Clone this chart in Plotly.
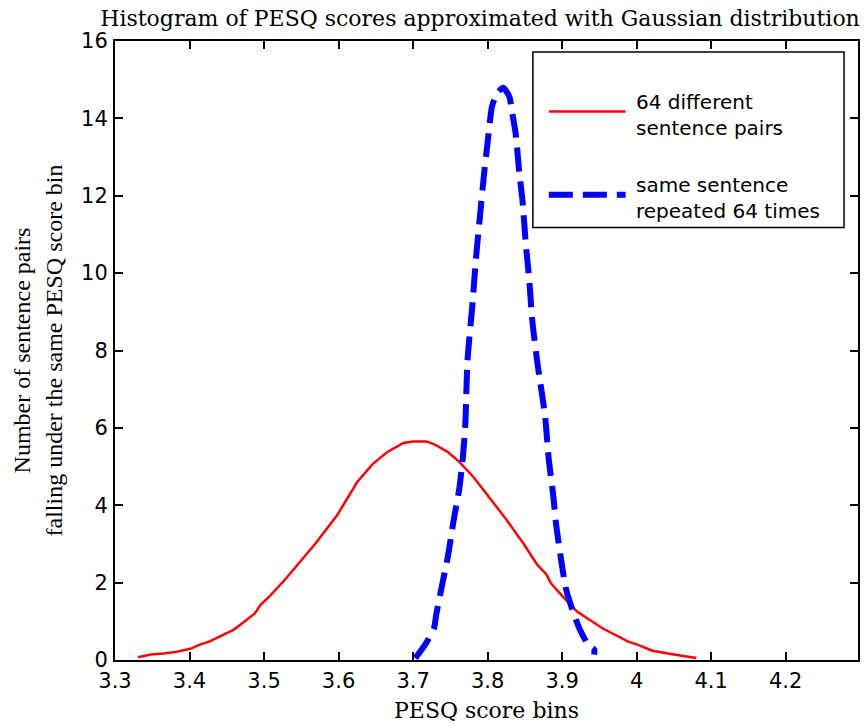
import plotly.graph_objects as go

# ---- data ----
red_x = [3.331, 3.348, 3.365, 3.382, 3.401, 3.413, 3.427, 3.443, 3.459, 3.473,
         3.488, 3.495, 3.507, 3.526, 3.543, 3.569, 3.598, 3.617, 3.625, 3.646,
         3.665, 3.687, 3.700, 3.718, 3.730, 3.747, 3.762, 3.781, 3.800, 3.824,
         3.848, 3.867, 3.879, 3.885, 3.901, 3.920, 3.954, 3.988, 4.002, 4.021,
         4.050, 4.080]
red_y = [0.07, 0.14, 0.17, 0.21, 0.29, 0.39, 0.48, 0.62, 0.78, 0.98,
         1.21, 1.42, 1.64, 2.03, 2.41, 3.01, 3.74, 4.34, 4.60, 5.07,
         5.37, 5.61, 5.65, 5.65, 5.56, 5.37, 5.12, 4.73, 4.27, 3.66,
         3.01, 2.45, 2.21, 1.98, 1.64, 1.25, 0.82, 0.48, 0.39, 0.24,
         0.14, 0.05]

blue_x = [3.703, 3.716, 3.728, 3.731, 3.738, 3.747, 3.754, 3.762, 3.767, 3.770,
          3.773, 3.780, 3.784, 3.789, 3.795, 3.800, 3.806, 3.813, 3.821,
          3.829, 3.833, 3.838, 3.842, 3.847, 3.851, 3.856, 3.860, 3.867,
          3.877, 3.882, 3.888, 3.892, 3.899, 3.905, 3.913, 3.923, 3.935, 3.943, 3.943]
blue_y = [0.05, 0.39, 0.82, 1.17, 1.85, 2.71, 3.57, 4.43, 5.29, 6.06,
          7.74, 9.27, 10.30, 11.33, 12.52, 13.38, 14.32, 14.66, 14.79,
          14.57, 14.15, 13.55, 12.69, 11.84, 10.81, 9.79, 8.76, 7.65,
          6.32, 5.20, 4.26, 3.49, 2.54, 1.85, 1.34, 0.82, 0.39, 0.27, 0.14]

x_ticks = [3.3, 3.4, 3.5, 3.6, 3.7, 3.8, 3.9, 4.0, 4.1, 4.2]
x_ticktext = ["3.3", "3.4", "3.5", "3.6", "3.7", "3.8", "3.9", "4", "4.1", "4.2"]
y_ticks = [0, 2, 4, 6, 8, 10, 12, 14, 16]

series_names = ["64 different<br>sentence pairs", "same sentence<br>repeated 64 times"]
title_text = "Histogram of PESQ scores approximated with Gaussian distribution"
x_title = "PESQ score bins"
y_title = "Number of sentence pairs<br>falling under the same PESQ score bin"

SANS = "DejaVu Sans"
SERIF = "DejaVu Serif"
TIMES = "Liberation Serif"

fig = go.Figure()
fig.add_trace(go.Scatter(x=red_x, y=red_y, mode="lines", name=series_names[0],
                         line=dict(color="#ff0000", width=2.5), showlegend=False))
fig.add_trace(go.Scatter(x=blue_x, y=blue_y, mode="lines", name=series_names[1],
                         line=dict(color="#0000ff", width=6, dash="24px,10px",
                                   shape="spline", smoothing=0.6),
                         showlegend=False))

# plot area in pixels: x 115..860, y 41..665
L, R, T, B = 115, 860, 41, 665
W, H = 867, 726
def px(xp):
    return (xp - L) / (R - L)
def py(yp):
    return (B - yp) / (B - T)

axis_common = dict(showline=True, linecolor="black", linewidth=2, mirror="ticks",
                   ticks="inside", ticklen=8, tickwidth=1.5, tickcolor="black",
                   showgrid=False, zeroline=False,
                   tickfont=dict(family=SANS, size=21, color="black"))

fig.update_layout(
    width=W, height=H,
    margin=dict(l=L, r=W - R, t=T, b=H - B),
    paper_bgcolor="white", plot_bgcolor="white",
    title=dict(text=title_text, x=px(481), xref="paper", xanchor="center",
               y=1 - 18 / H, yref="container", yanchor="middle",
               font=dict(family=SERIF, size=22, color="black")),
    xaxis=dict(range=[3.3, 4.297], tickvals=x_ticks, ticktext=x_ticktext,
               ticklabelstandoff=1,
               title=dict(text=x_title, font=dict(family=SERIF, size=22, color="black"),
                          standoff=10),
               **axis_common),
    yaxis=dict(range=[0, 16], tickvals=y_ticks, ticklabelstandoff=1,
               title=dict(text=y_title, font=dict(family=TIMES, size=24, color="black"),
                          standoff=12),
               **axis_common),
)

# legend drawn manually (box, samples, labels)
fig.add_shape(type="rect", xref="paper", yref="paper",
              x0=px(534), x1=px(846), y0=py(229), y1=py(52),
              line=dict(color="black", width=1.5), fillcolor="white", layer="above")
fig.add_shape(type="line", xref="paper", yref="paper",
              x0=px(550), x1=px(627), y0=py(112), y1=py(112),
              line=dict(color="#ff0000", width=2.5), layer="above")
fig.add_shape(type="line", xref="paper", yref="paper",
              x0=px(550), x1=px(627), y0=py(196), y1=py(196),
              line=dict(color="#0000ff", width=6, dash="24px,10px"), layer="above")
fig.add_annotation(xref="paper", yref="paper", x=px(635), y=py(115.5),
                   xanchor="left", yanchor="middle", align="left", showarrow=False,
                   text=series_names[0], font=dict(family=SANS, size=20, color="black"))
fig.add_annotation(xref="paper", yref="paper", x=px(635), y=py(199.5),
                   xanchor="left", yanchor="middle", align="left", showarrow=False,
                   text=series_names[1], font=dict(family=SANS, size=20, color="black"))

fig.write_html("out.html")
